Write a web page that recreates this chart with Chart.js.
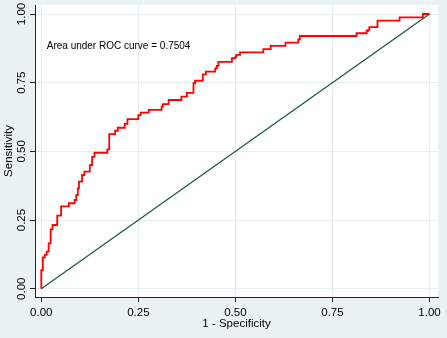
<!DOCTYPE html>
<html>
<head>
<meta charset="utf-8">
<script src="https://cdn.jsdelivr.net/npm/chart.js@4.4.0/dist/chart.umd.min.js"></script>
<style>
  html, body { margin: 0; padding: 0; background: #eaf2f3; }
  canvas { display: block; }
</style>
</head>
<body>
<canvas id="c" width="447" height="338"></canvas>
<script>
// ---- data ----
const xTicks = [0, 0.25, 0.5, 0.75, 1];
const yTicks = [0, 0.25, 0.5, 0.75, 1];
const rocFpr = [0, 0, 0.004, 0.009, 0.014, 0.019, 0.024, 0.029, 0.041, 0.051, 0.071, 0.086, 0.090, 0.094, 0.097, 0.105, 0.111, 0.125, 0.131, 0.137, 0.170, 0.175, 0.190, 0.197, 0.215, 0.222, 0.250, 0.256, 0.277, 0.310, 0.313, 0.328, 0.361, 0.375, 0.392, 0.396, 0.416, 0.424, 0.448, 0.452, 0.456, 0.491, 0.499, 0.502, 0.512, 0.572, 0.591, 0.629, 0.662, 0.666, 0.812, 0.838, 0.842, 0.845, 0.866, 0.923, 0.983, 1.000];
const rocTpr = [0, 0.068, 0.114, 0.123, 0.135, 0.165, 0.216, 0.232, 0.266, 0.300, 0.311, 0.323, 0.341, 0.365, 0.390, 0.414, 0.426, 0.450, 0.480, 0.495, 0.507, 0.563, 0.575, 0.586, 0.600, 0.617, 0.632, 0.641, 0.651, 0.663, 0.672, 0.687, 0.699, 0.713, 0.748, 0.757, 0.780, 0.790, 0.802, 0.811, 0.826, 0.839, 0.842, 0.851, 0.860, 0.872, 0.884, 0.896, 0.908, 0.920, 0.930, 0.939, 0.942, 0.952, 0.976, 0.988, 1.000, 1.000];
const refX = [0, 1];
const refY = [0, 1];
const aucText = 'Area under ROC curve = 0.7504';
const aucPos = [0.014, 0.883];
const xTitle = '1 - Specificity';
const yTitle = 'Sensitivity';

const FONT = 'Liberation Sans, Arial, Helvetica, sans-serif';

const bgPlugin = {
  id: 'bg',
  beforeDraw(chart) {
    const {ctx, chartArea: a} = chart;
    ctx.save();
    ctx.fillStyle = '#eaf2f3';
    ctx.fillRect(0, 0, chart.width, chart.height);
    ctx.fillStyle = '#ffffff';
    ctx.fillRect(a.left, a.top, a.right - a.left, a.bottom - a.top);
    ctx.restore();
  }
};

const annoPlugin = {
  id: 'anno',
  afterDatasetsDraw(chart) {
    const {ctx, scales: {x, y}} = chart;
    ctx.save();
    ctx.font = '10px ' + FONT;
    ctx.fillStyle = '#000';
    ctx.textAlign = 'left';
    ctx.textBaseline = 'middle';
    ctx.fillText(aucText, x.getPixelForValue(aucPos[0]), y.getPixelForValue(aucPos[1]));
    ctx.restore();
  }
};

const tickFont = { family: FONT, size: 11.5 };

new Chart(document.getElementById('c'), {
  type: 'line',
  data: {
    datasets: [
      {
        data: rocFpr.map((v, i) => ({ x: v, y: rocTpr[i] })),
        borderColor: '#ff0000',
        borderWidth: 1.8,
        pointRadius: 0,
        stepped: 'before',
        fill: false
      },
      {
        data: refX.map((v, i) => ({ x: v, y: refY[i] })),
        borderColor: '#1b5a47',
        borderWidth: 1.3,
        pointRadius: 0,
        fill: false
      }
    ]
  },
  options: {
    responsive: false,
    animation: false,
    devicePixelRatio: 1,
    layout: { padding: { top: 5, right: 9, left: 0, bottom: 0 } },
    plugins: { legend: { display: false }, tooltip: { enabled: false } },
    scales: {
      x: {
        type: 'linear',
        min: -0.0162,
        max: 1.0219,
        afterBuildTicks: s => { s.ticks = xTicks.map(v => ({ value: v })); },
        afterFit: s => { s.height = 41; },
        ticks: {
          callback: v => Number(v).toFixed(2),
          font: tickFont,
          color: '#000',
          padding: 4,
          maxRotation: 0,
          autoSkip: false
        },
        grid: { color: '#e6eef0', lineWidth: 1, tickColor: '#222', tickLength: 5, tickWidth: 1 },
        border: { color: '#222', width: 1 },
        title: { display: true, text: xTitle, font: tickFont, color: '#000', padding: { top: 0, bottom: 7 } }
      },
      y: {
        type: 'linear',
        min: -0.0302,
        max: 1.0328,
        afterBuildTicks: s => { s.ticks = yTicks.map(v => ({ value: v })); },
        afterFit: s => { s.width = 35; },
        ticks: {
          callback: v => Number(v).toFixed(2),
          font: tickFont,
          color: '#000',
          padding: -3,
          minRotation: 90,
          maxRotation: 90,
          crossAlign: 'center',
          autoSkip: false
        },
        grid: { color: '#e6eef0', lineWidth: 1, tickColor: '#222', tickLength: 5, tickWidth: 1 },
        border: { color: '#222', width: 1 },
        title: { display: true, text: yTitle, font: tickFont, color: '#000', padding: { top: 2, bottom: 0 } }
      }
    }
  },
  plugins: [bgPlugin, annoPlugin]
});
</script>
</body>
</html>
